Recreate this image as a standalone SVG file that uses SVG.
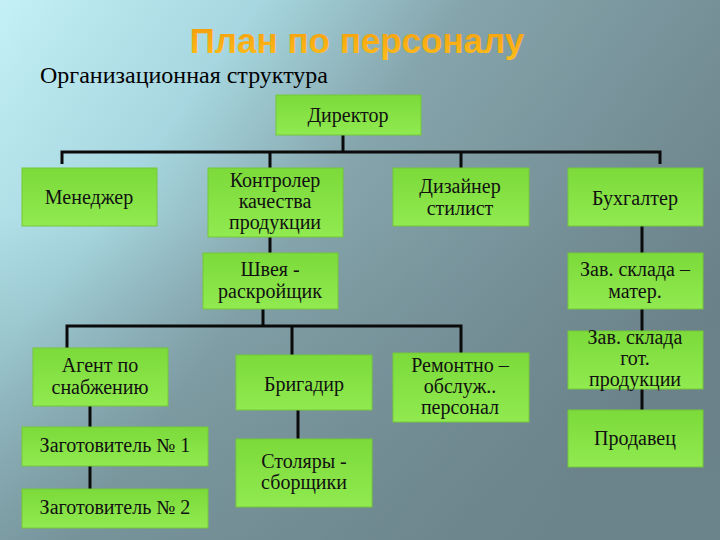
<svg xmlns="http://www.w3.org/2000/svg" width="720" height="540" viewBox="0 0 720 540">
<defs>
<linearGradient id="bg" x1="0" y1="0" x2="1" y2="0.55">
<stop offset="0" stop-color="#c4f0f6"/>
<stop offset="0.28" stop-color="#a6d6df"/>
<stop offset="0.5" stop-color="#85a4ab"/>
<stop offset="1" stop-color="#6a8088"/>
</linearGradient>
<linearGradient id="bg2" x1="0" y1="0" x2="0" y2="1">
<stop offset="0.4" stop-color="#6c868d" stop-opacity="0"/>
<stop offset="1" stop-color="#6c868d" stop-opacity="0.55"/>
</linearGradient>
<linearGradient id="box" x1="0" y1="0" x2="0" y2="1">
<stop offset="0" stop-color="#7cda3a"/>
<stop offset="1" stop-color="#90ea50"/>
</linearGradient>
<linearGradient id="ttl" x1="0" y1="0" x2="0" y2="1">
<stop offset="0" stop-color="#f39a0a"/>
<stop offset="1" stop-color="#ffbe1a"/>
</linearGradient>
<style>
.b{fill:url(#box);stroke:#74c83a;stroke-width:1}
.t{font-size:20px;fill:#111;text-anchor:middle}
.c{stroke:#0a0a0a;stroke-width:3;fill:none}
</style>
</defs>
<rect width="720" height="540" fill="url(#bg)"/>
<rect width="720" height="540" fill="url(#bg2)"/>
<text x="357" y="53" font-family="Liberation Sans,Arial,sans-serif" font-weight="bold" font-size="35" fill="url(#ttl)" text-anchor="middle">План по персоналу</text>
<text x="40" y="83" font-family="Liberation Serif,serif" font-size="24" fill="#000">Организационная структура</text>

<g id="connectors">
<path class="c" d="M343 135V152M62 164V152H660V164M270 152V168M461 152V168"/>
<path class="c" d="M270 237V253"/>
<path class="c" d="M642 226V253M642 309V331M642 389V410"/>
<path class="c" d="M263 309V326M67 348V326H461V353M292 326V355"/>
<path class="c" d="M90 406V427M90 466V489"/>
<path class="c" d="M298 410V439"/>
</g>

<g font-family="Liberation Serif,serif">
<g id="director"><rect class="b" x="276" y="95" width="145" height="40"/><text class="t" x="348" y="122">Директор</text></g>
<g id="manager"><rect class="b" x="22" y="168" width="135" height="58"/><text class="t" x="89" y="204">Менеджер</text></g>
<g id="controller"><rect class="b" x="208" y="168" width="135" height="69"/><text class="t" x="275" y="187">Контролер<tspan x="275" dy="21">качества</tspan><tspan x="275" dy="21">продукции</tspan></text></g>
<g id="designer"><rect class="b" x="393" y="168" width="136" height="58"/><text class="t" x="460" y="193">Дизайнер<tspan x="460" dy="22">стилист</tspan></text></g>
<g id="accountant"><rect class="b" x="568" y="168" width="135" height="58"/><text class="t" x="635" y="205">Бухгалтер</text></g>
<g id="seamstress"><rect class="b" x="203" y="253" width="135" height="56"/><text class="t" x="270" y="276">Швея -<tspan x="270" dy="22">раскройщик</tspan></text></g>
<g id="warehouse-mat"><rect class="b" x="568" y="253" width="135" height="56"/><text class="t" x="635" y="276">Зав. склада –<tspan x="635" dy="22">матер.</tspan></text></g>
<g id="agent"><rect class="b" x="33" y="348" width="135" height="58"/><text class="t" x="100" y="372">Агент по<tspan x="100" dy="22">снабжению</tspan></text></g>
<g id="foreman"><rect class="b" x="236" y="355" width="136" height="55"/><text class="t" x="304" y="391">Бригадир</text></g>
<g id="repair"><rect class="b" x="393" y="353" width="136" height="69"/><text class="t" x="460" y="372">Ремонтно –<tspan x="460" dy="21">обслуж..</tspan><tspan x="460" dy="21">персонал</tspan></text></g>
<g id="warehouse-prod"><rect class="b" x="568" y="331" width="135" height="58"/><text class="t" x="635" y="344">Зав. склада<tspan x="635" dy="21">гот.</tspan><tspan x="635" dy="21">продукции</tspan></text></g>
<g id="seller"><rect class="b" x="568" y="410" width="135" height="57"/><text class="t" x="635" y="445">Продавец</text></g>
<g id="procurer1"><rect class="b" x="22" y="427" width="186" height="39"/><text class="t" x="115" y="452">Заготовитель № 1</text></g>
<g id="procurer2"><rect class="b" x="22" y="489" width="186" height="39"/><text class="t" x="115" y="514">Заготовитель № 2</text></g>
<g id="carpenters"><rect class="b" x="236" y="439" width="136" height="68"/><text class="t" x="304" y="468">Столяры -<tspan x="304" dy="21">сборщики</tspan></text></g>
</g>
</svg>
